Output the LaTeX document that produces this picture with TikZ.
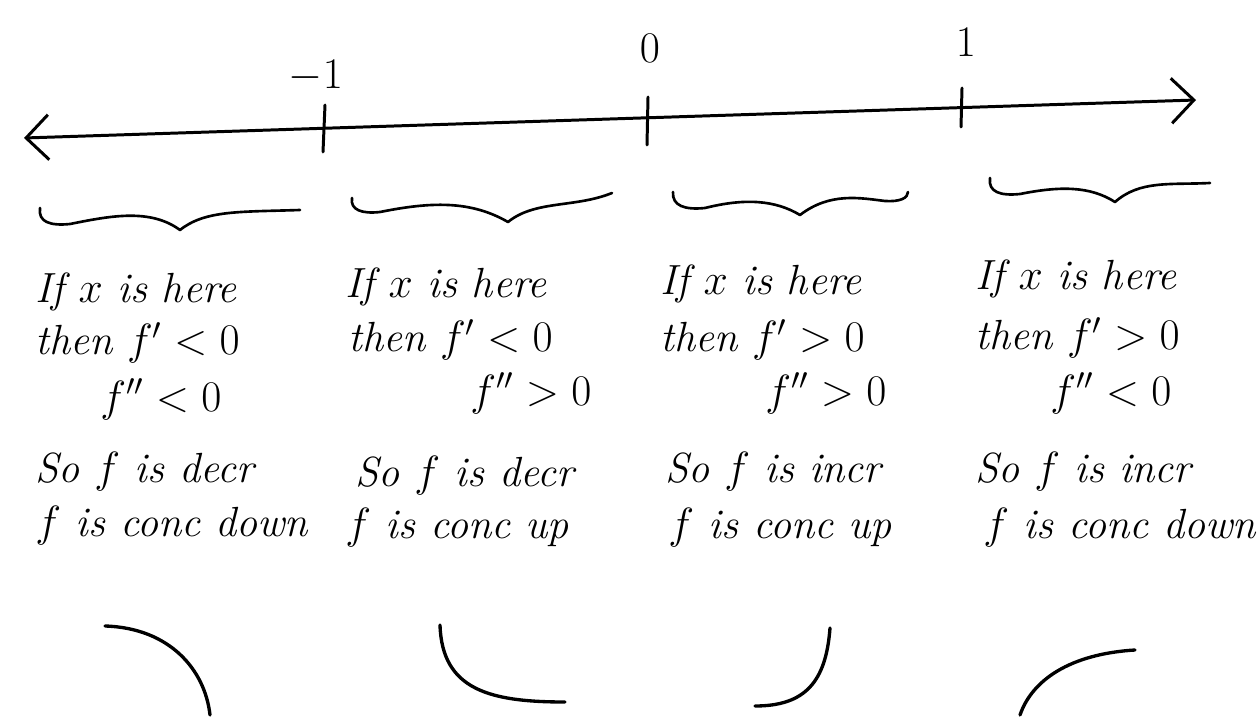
\documentclass[tikz,border=0pt]{standalone}
\usepackage{amsmath,amssymb}
\usetikzlibrary{arrows.meta,positioning}
\tikzset{
  pen/.style={line width=1.7pt, line cap=round, line join=round},
  axl/.style={pen, {Straight Barb[length=4.5mm, width=9mm]}-{Straight Barb[length=4.5mm, width=9mm]}},
  tck/.style={pen},
  brc/.style={pen, line width=1.5pt},
  crv/.style={pen, line width=1.9pt},
  numl/.style={font=\fontsize{34}{34}\selectfont, inner sep=0pt},
  txt/.style={anchor=base west, inner sep=0pt, font=\fontsize{24}{28}\selectfont\itshape},
}
\begin{document}
\begin{tikzpicture}[x=0.02cm, y=-0.02cm]
  \useasboundingbox (0,0) rectangle (1257,719);
  % number line
  \coordinate (lft) at (24,138);
  \coordinate (rgt) at (1196,100);
  \draw[axl] (lft) -- (rgt);
  \draw[tck] (325,105) -- (323,152);
  \draw[tck] (648,97) -- (647,145);
  \draw[tck] (962,88) -- (961,127);
  \node[numl] (mone) at (316,76) {$-1$};
  \node[numl] (zero) at (650,48) {$0$};
  \node[numl] (one) at (966,42) {$1$};
  % braces
  \draw[brc] (40,208) .. controls (38,222) and (50,226) .. (70,224)
     .. controls (110,216) and (150,208) .. (180,230)
     .. controls (205,210) and (240,212) .. (300,210);
  \draw[brc] (352,198) .. controls (350,210) and (362,214) .. (380,212)
     .. controls (430,202) and (470,200) .. (508,222)
     .. controls (535,200) and (575,208) .. (612,193);
  \draw[brc] (673,192) .. controls (672,206) and (685,210) .. (705,208)
     .. controls (745,198) and (775,200) .. (800,215)
     .. controls (830,192) and (860,198) .. (885,201)
     .. controls (900,202) and (908,198) .. (908,192);
  \draw[brc] (990,178) .. controls (988,192) and (1000,196) .. (1020,194)
     .. controls (1060,186) and (1090,186) .. (1115,202)
     .. controls (1140,180) and (1170,185) .. (1210,183);
  % column 1
  \node[txt] (ia) at (35,303) {If $x$ is here};
  \node[txt] (ib) at (35,355) {then $f'<0$};
  \node[txt] (ic) at (100,411) {$f''<0$};
  \node[txt] (id) at (35,482) {So $f$ is decr};
  \node[txt] (ie) at (35,536) {$f$ is conc down};
  % column 2
  \node[txt] (iia) at (345,298) {If $x$ is here};
  \node[txt] (iib) at (348,352) {then $f'<0$};
  \node[txt] (iic) at (470,405) {$f''>0$};
  \node[txt] (iid) at (355,486) {So $f$ is decr};
  \node[txt] (iie) at (345,538) {$f$ is conc up};
  % column 3
  \node[txt] (iiia) at (660,295) {If $x$ is here};
  \node[txt] (iiib) at (660,352) {then $f'>0$};
  \node[txt] (iiic) at (765,405) {$f''>0$};
  \node[txt] (iiid) at (665,482) {So $f$ is incr};
  \node[txt] (iiie) at (668,538) {$f$ is conc up};
  % column 4
  \node[txt] (iva) at (975,290) {If $x$ is here};
  \node[txt] (ivb) at (975,350) {then $f'>0$};
  \node[txt] (ivc) at (1050,405) {$f''<0$};
  \node[txt] (ivd) at (975,482) {So $f$ is incr};
  \node[txt] (ive) at (983,538) {$f$ is conc down};
  % shapes
  \draw[crv] (105,626) .. controls (170,628) and (205,670) .. (210,715);
  \draw[crv] (440,625) .. controls (442,690) and (490,702) .. (565,702);
  \draw[crv] (755,706) .. controls (805,706) and (826,682) .. (830,628);
  \draw[crv] (1020,715) .. controls (1032,680) and (1070,654) .. (1135,650);
\end{tikzpicture}
\end{document}
